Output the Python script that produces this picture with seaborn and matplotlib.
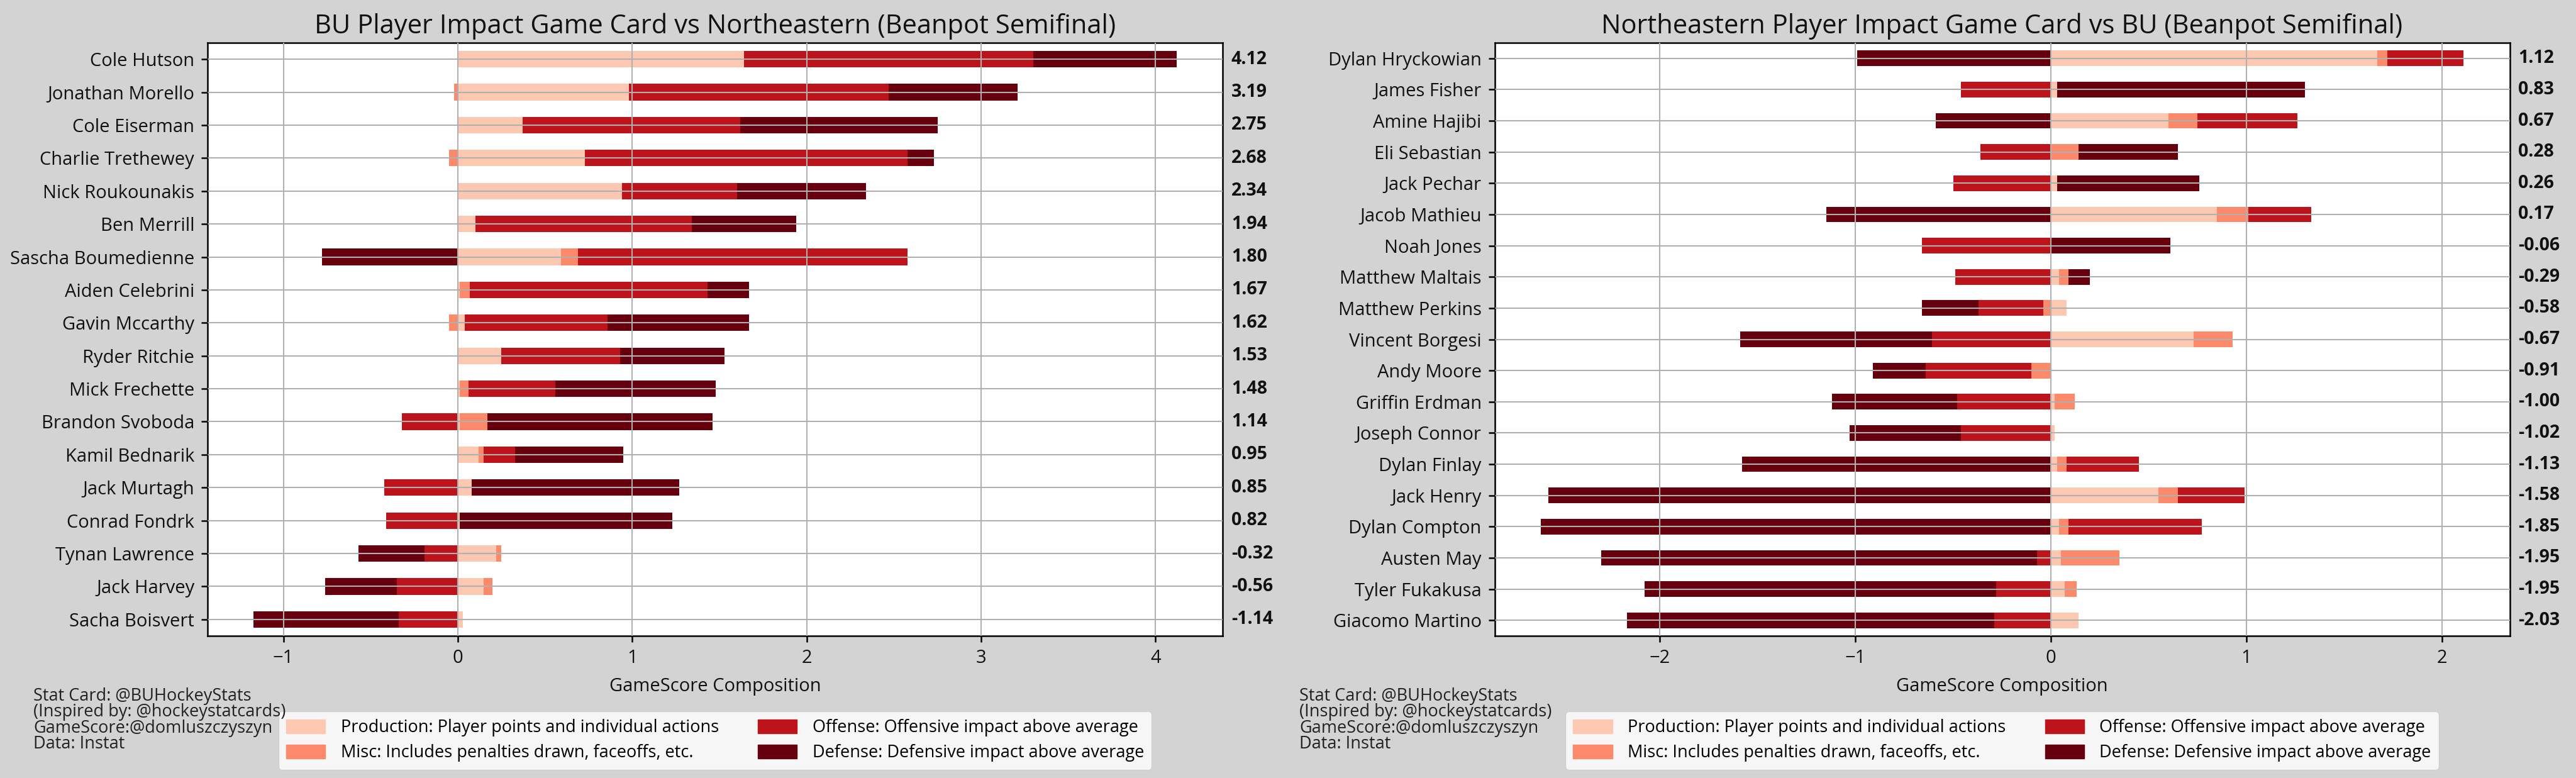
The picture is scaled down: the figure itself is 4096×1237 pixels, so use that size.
import matplotlib
matplotlib.use("Agg")
import matplotlib.pyplot as plt
import matplotlib.patches as mpatches
import seaborn as sns
import numpy as np

# ---------------- data ----------------
bu_players = ["Cole Hutson", "Jonathan Morello", "Cole Eiserman", "Charlie Trethewey",
              "Nick Roukounakis", "Ben Merrill", "Sascha Boumedienne", "Aiden Celebrini",
              "Gavin Mccarthy", "Ryder Ritchie", "Mick Frechette", "Brandon Svoboda",
              "Kamil Bednarik", "Jack Murtagh", "Conrad Fondrk", "Tynan Lawrence",
              "Jack Harvey", "Sacha Boisvert"]
bu_production = [1.64, 0.98, 0.37, 0.73, 0.94, 0.10, 0.59, 0.01, 0.04, 0.25, 0.01, 0.01,
                 0.12, 0.08, 0.01, 0.22, 0.15, 0.03]
bu_misc = [0.00, -0.02, 0.00, -0.05, 0.00, 0.00, 0.10, 0.06, -0.05, 0.00, 0.05, 0.16,
           0.03, 0.00, 0.00, 0.03, 0.05, 0.00]
bu_offense = [1.66, 1.49, 1.25, 1.85, 0.66, 1.24, 1.89, 1.36, 0.82, 0.68, 0.50, -0.32,
              0.18, -0.42, -0.41, -0.19, -0.35, -0.34]
bu_defense = [0.82, 0.74, 1.13, 0.15, 0.74, 0.60, -0.78, 0.24, 0.81, 0.60, 0.92, 1.29,
              0.62, 1.19, 1.22, -0.38, -0.41, -0.83]
bu_totals = ["4.12", "3.19", "2.75", "2.68", "2.34", "1.94", "1.80", "1.67", "1.62",
             "1.53", "1.48", "1.14", "0.95", "0.85", "0.82", "-0.32", "-0.56", "-1.14"]

nu_players = ["Dylan Hryckowian", "James Fisher", "Amine Hajibi", "Eli Sebastian",
              "Jack Pechar", "Jacob Mathieu", "Noah Jones", "Matthew Maltais",
              "Matthew Perkins", "Vincent Borgesi", "Andy Moore", "Griffin Erdman",
              "Joseph Connor", "Dylan Finlay", "Jack Henry", "Dylan Compton",
              "Austen May", "Tyler Fukakusa", "Giacomo Martino"]
nu_production = [1.67, 0.03, 0.60, 0.00, 0.03, 0.85, 0.00, 0.04, 0.08, 0.73, 0.00, 0.02,
                 0.02, 0.03, 0.55, 0.04, 0.05, 0.07, 0.14]
nu_misc = [0.05, 0.00, 0.15, 0.14, 0.00, 0.16, 0.00, 0.05, -0.04, 0.20, -0.10, 0.10,
           0.00, 0.05, 0.10, 0.05, 0.30, 0.06, 0.00]
nu_offense = [0.39, -0.46, 0.51, -0.36, -0.50, 0.32, -0.66, -0.49, -0.33, -0.61, -0.54,
              -0.48, -0.46, 0.37, 0.34, 0.68, -0.07, -0.28, -0.29]
nu_defense = [-0.99, 1.27, -0.59, 0.51, 0.73, -1.15, 0.61, 0.11, -0.29, -0.98, -0.27,
              -0.64, -0.57, -1.58, -2.57, -2.61, -2.23, -1.80, -1.88]
nu_totals = ["1.12", "0.83", "0.67", "0.28", "0.26", "0.17", "-0.06", "-0.29", "-0.58",
             "-0.67", "-0.91", "-1.00", "-1.02", "-1.13", "-1.58", "-1.85", "-1.95",
             "-1.95", "-2.03"]

component_labels = ["Production: Player points and individual actions",
                    "Misc: Includes penalties drawn, faceoffs, etc.",
                    "Offense: Offensive impact above average",
                    "Defense: Defensive impact above average"]
component_colors = ["#fcc8b2", "#fc8a6a", "#bc141a", "#67000d"]

titles = ["BU Player Impact Game Card vs Northeastern (Beanpot Semifinal)",
          "Northeastern Player Impact Game Card vs BU (Beanpot Semifinal)"]
footer_lines = ["Stat Card: @BUHockeyStats", "(Inspired by: @hockeystatcards)",
                "GameScore:@domluszczyszyn", "Data: Instat"]

# ---------------- style ----------------
FONT = ["Open Sans", "DejaVu Sans"]
plt.rcParams["font.family"] = FONT
BG = "#d3d3d3"
W, H = 4096, 1237
DPI = 100

fig = plt.figure(figsize=(W / DPI, H / DPI), dpi=DPI, facecolor=BG)
ax_top, ax_bot = 68, 1011
ax_h = (ax_bot - ax_top) / H
ax1 = fig.add_axes([330 / W, 1 - ax_bot / H, 1614 / W, ax_h])
ax2 = fig.add_axes([2376.5 / W, 1 - ax_bot / H, 1614 / W, ax_h])


def draw_panel(ax, players, comps, totals, title):
    comps = [np.asarray(c, dtype=float) for c in comps]
    pos = [np.clip(c, 0, None) for c in comps]
    neg = [np.clip(c, None, 0) for c in comps]
    pos_cum = np.cumsum(pos, axis=0)
    neg_cum = np.cumsum(neg, axis=0)
    # draw from outermost segment inward so that inner segments overlay
    for k in range(3, -1, -1):
        for cum in (pos_cum, neg_cum):
            sns.barplot(x=cum[k], y=players, orient="h", color=component_colors[k],
                        width=0.5, linewidth=0, errorbar=None, saturation=1, ax=ax)
    ax.set_facecolor("white")
    ax.set_axisbelow(False)
    ax.grid(True, axis="both", color="#b0b0b0", linewidth=1.5)
    for s in ax.spines.values():
        s.set_color("black")
        s.set_linewidth(1.8)
    ax.tick_params(axis="both", length=7, width=1.8, color="black",
                   labelsize=21, pad=8, labelcolor="#111111")
    ax.set_ylabel("")
    ax.set_xlabel("GameScore Composition", fontsize=21, labelpad=12, color="#111111")
    ax.set_title(title, fontsize=30, pad=11, color="#111111")
    for i, t in enumerate(totals):
        ax.annotate(t, xy=(1, i), xycoords=("axes fraction", "data"),
                    xytext=(10, 0), textcoords="offset points",
                    ha="left", va="center", fontsize=20.5, fontweight="bold",
                    color="#111111")
    handles = [mpatches.Patch(color=c, label=l)
               for c, l in zip(component_colors, component_labels)]
    ax.legend(handles=handles, loc="upper center", bbox_to_anchor=(0.5, -0.113),
              ncol=2, fontsize=19.5, handlelength=2.3, handleheight=0.85,
              labelspacing=0.45, columnspacing=2.3, handletextpad=0.9,
              borderpad=0.45, frameon=True, framealpha=0.8)


draw_panel(ax1, bu_players, [bu_production, bu_misc, bu_offense, bu_defense],
           bu_totals, titles[0])
draw_panel(ax2, nu_players, [nu_production, nu_misc, nu_offense, nu_defense],
           nu_totals, titles[1])

for x0 in (53, 2066):
    for j, line in enumerate(footer_lines):
        fig.text(x0 / W, 1 - (1114 + 25.5 * j) / H, line, fontsize=19.5,
                 ha="left", va="baseline", color="#222222")

fig.savefig("out.png", dpi=DPI, facecolor=BG)
